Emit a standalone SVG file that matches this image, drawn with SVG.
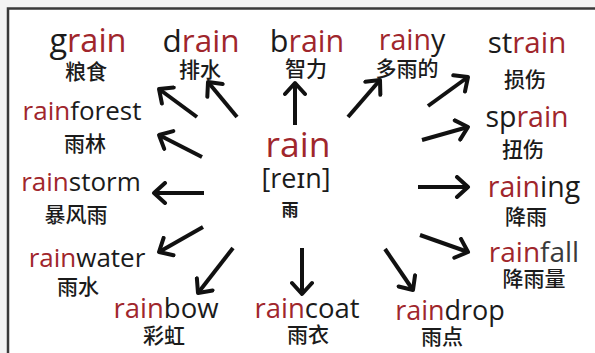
<svg xmlns="http://www.w3.org/2000/svg" width="595" height="353" viewBox="0 0 595 353">
<defs>
<style>
.en{font-family:"Open Sans","Noto Sans",sans-serif;fill:#1b1b1b;text-anchor:middle;font-weight:500}
.r{fill:#a0262c}
.zh{font-family:"Noto Sans CJK SC",sans-serif;fill:#1b1b1b;text-anchor:middle;font-size:21px;font-weight:500}
.arr{stroke:#111;stroke-width:4;fill:none;marker-end:url(#ah)}
</style>
<marker id="ah" markerUnits="userSpaceOnUse" viewBox="0 0 24 24" markerWidth="24" markerHeight="24" refX="18" refY="12" orient="auto">
<path d="M7,2 L18,12 L7,22" fill="none" stroke="#111" stroke-width="4" stroke-linecap="round" stroke-linejoin="round"/>
</marker>
</defs>
<rect width="595" height="353" fill="#f4f4f4"/>
<rect x="9" y="9" width="586" height="344" fill="#ffffff"/>
<path d="M8,353 V8.5 H595" fill="none" stroke="#3a3a3a" stroke-width="2.5"/>

<g id="connectors">
<line class="arr" x1="197" y1="117" x2="159" y2="89"/>
<line class="arr" x1="237" y1="117" x2="208" y2="82"/>
<line class="arr" x1="295" y1="125" x2="295" y2="83"/>
<line class="arr" x1="348" y1="117" x2="380" y2="80"/>
<line class="arr" x1="428" y1="106" x2="468" y2="77"/>
<line class="arr" x1="422" y1="140" x2="468" y2="127"/>
<line class="arr" x1="202" y1="157" x2="159" y2="135"/>
<line class="arr" x1="204" y1="193" x2="154" y2="193"/>
<line class="arr" x1="418" y1="187" x2="468" y2="187"/>
<line class="arr" x1="203" y1="227" x2="159" y2="252"/>
<line class="arr" x1="233" y1="248" x2="198" y2="293"/>
<line class="arr" x1="302" y1="248" x2="302" y2="294"/>
<line class="arr" x1="385" y1="249" x2="413" y2="290"/>
<line class="arr" x1="420" y1="235" x2="468" y2="252"/>
</g>

<g id="center">
<text class="en" x="298" y="157" font-size="35.5"><tspan class="r">rain</tspan></text>
<text class="en" x="296" y="188" font-size="27" style="font-weight:400">[reɪn]</text>
<text class="zh" x="290" y="216" style="font-size:17px;font-weight:700">雨</text>
</g>

<g id="grain">
<text class="en" x="88" y="52" font-size="32.5">g<tspan class="r">rain</tspan></text>
<text class="zh" x="86" y="79">粮食</text>
</g>
<g id="drain">
<text class="en" x="201" y="52" font-size="31.5">d<tspan class="r">rain</tspan></text>
<text class="zh" x="200" y="77">排水</text>
</g>
<g id="brain">
<text class="en" x="307" y="52" font-size="30.5">b<tspan class="r">rain</tspan></text>
<text class="zh" x="306" y="76">智力</text>
</g>
<g id="rainy">
<text class="en" x="412" y="50" font-size="28.5"><tspan class="r">rain</tspan>y</text>
<text class="zh" x="407" y="76">多雨的</text>
</g>
<g id="strain">
<text class="en" x="527" y="53" font-size="29.5">st<tspan class="r">rain</tspan></text>
<text class="zh" x="525" y="87">损伤</text>
</g>
<g id="sprain">
<text class="en" x="527" y="127" font-size="28.5">sp<tspan class="r">rain</tspan></text>
<text class="zh" x="523" y="157">扭伤</text>
</g>
<g id="rainforest">
<text class="en" x="82" y="120" font-size="26"><tspan class="r">rain</tspan>forest</text>
<text class="zh" x="85" y="151">雨林</text>
</g>
<g id="rainstorm">
<text class="en" x="81" y="191" font-size="26"><tspan class="r">rain</tspan>storm</text>
<text class="zh" x="76" y="222">暴风雨</text>
</g>
<g id="raining">
<text class="en" x="534" y="197" font-size="28.5"><tspan class="r">rain</tspan>ing</text>
<text class="zh" x="526" y="224">降雨</text>
</g>
<g id="rainwater">
<text class="en" x="87" y="267" font-size="26"><tspan class="r">rain</tspan>water</text>
<text class="zh" x="78" y="294">雨水</text>
</g>
<g id="rainfall">
<text class="en" x="534" y="262" font-size="28"><tspan class="r">rain</tspan><tspan fill="#3a3a3a">fall</tspan></text>
<text class="zh" x="534" y="286">降雨量</text>
</g>
<g id="rainbow">
<text class="en" x="166" y="318" font-size="27.5"><tspan class="r">rain</tspan>bow</text>
<text class="zh" x="164" y="343">彩虹</text>
</g>
<g id="raincoat">
<text class="en" x="307" y="318" font-size="27.5"><tspan class="r">rain</tspan>coat</text>
<text class="zh" x="308" y="342">雨衣</text>
</g>
<g id="raindrop">
<text class="en" x="450" y="320" font-size="27"><tspan class="r">rain</tspan>drop</text>
<text class="zh" x="442" y="344">雨点</text>
</g>
</svg>
